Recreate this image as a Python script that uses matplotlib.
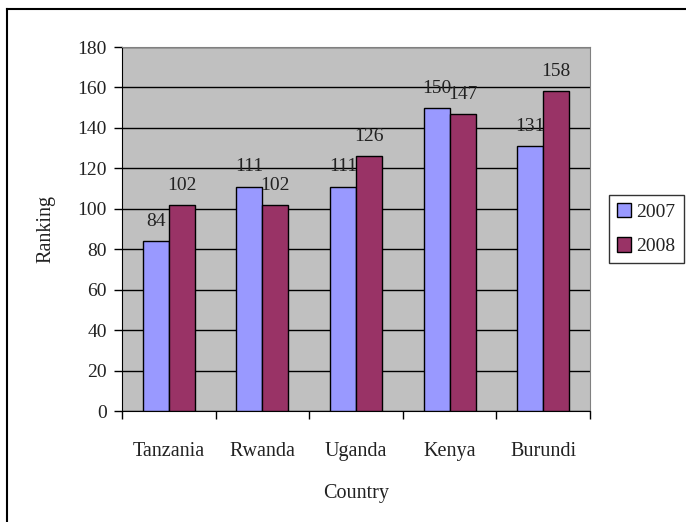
import numpy as np
import matplotlib.pyplot as plt
from matplotlib.lines import Line2D

countries = ["Tanzania", "Rwanda", "Uganda", "Kenya", "Burundi"]
rank_2007 = [84, 111, 111, 150, 131]
rank_2008 = [102, 102, 126, 147, 158]
years = ["2007", "2008"]

plt.rcParams['font.family'] = ['Liberation Serif', 'DejaVu Serif']
fs = 14

fig = plt.figure(figsize=(6.86, 5.22), dpi=100)
ax = fig.add_axes([122 / 686, 1 - 411 / 522, 468 / 686, 364 / 522])

x = np.arange(len(countries))
w = 0.277
b1 = ax.bar(x - w / 2, rank_2007, w, color='#9999FF', edgecolor='black', linewidth=1, label=years[0], zorder=3)
b2 = ax.bar(x + w / 2, rank_2008, w, color='#993366', edgecolor='black', linewidth=1, label=years[1], zorder=3)

for bars, vals in ((b1, rank_2007), (b2, rank_2008)):
    for r, v in zip(bars, vals):
        ax.annotate(str(v), (r.get_x() + r.get_width() / 2, v), xytext=(0, 8),
                    textcoords='offset points', ha='center', va='bottom', fontsize=fs, color='#222222')

ax.set_facecolor('#C0C0C0')
ax.set_xlim(-0.5, len(countries) - 0.5)
ax.set_ylim(0, 180)
ax.set_yticks(range(0, 181, 20))
ax.yaxis.grid(True, color='black', linewidth=1, zorder=1)
ax.set_axisbelow(True)

ax.set_xticks(x)
ax.set_xticklabels(countries, fontsize=fs + 0.5, color='#222222')
ax.set_xticks(np.arange(-0.5, len(countries)), minor=True)
ax.tick_params(axis='x', which='major', length=0, pad=22)
ax.tick_params(axis='x', which='minor', length=6, width=1, direction='out')
ax.tick_params(axis='y', length=6, width=1, direction='out', labelsize=fs, labelcolor='#222222', pad=5)

for side in ('top', 'right'):
    ax.spines[side].set_color('#808080')
for side in ('left', 'bottom'):
    ax.spines[side].set_color('black')

ax.set_ylabel('Ranking', fontsize=fs + 0.5, labelpad=16, color='#222222')
ax.set_xlabel('Country', fontsize=fs + 0.5, labelpad=17, color='#222222')

leg = ax.legend(loc='center left', bbox_to_anchor=(1.04, 0.5), fontsize=fs,
                frameon=True, fancybox=False, edgecolor='black',
                handlelength=0.75, handleheight=0.75, handletextpad=0.25,
                borderpad=0.42, labelspacing=0.85, borderaxespad=0)
leg.get_frame().set_linewidth(1)
for t in leg.get_texts():
    t.set_color('#222222')

# outer chart frame, open to the right and bottom edges
fig.add_artist(Line2D([7 / 686, 7 / 686], [0, 1 - 9 / 522], transform=fig.transFigure, color='black', linewidth=1.5))
fig.add_artist(Line2D([7 / 686, 1], [1 - 9 / 522, 1 - 9 / 522], transform=fig.transFigure, color='black', linewidth=1.5))

fig.savefig('out.png', dpi=100)
